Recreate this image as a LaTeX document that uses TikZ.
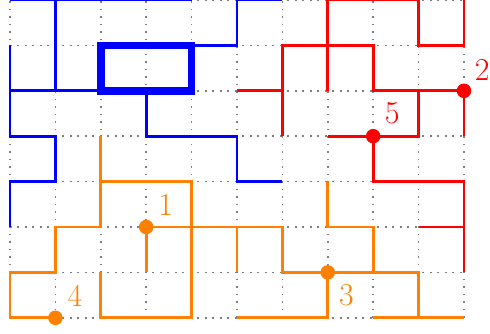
\documentclass[tikz,border=0pt]{standalone}
\usetikzlibrary{calc}
\begin{document}
\begin{tikzpicture}[x=1cm,y=-1cm,
  griddots/.style={gray, line width=1pt, dash pattern=on 1pt off 3.7pt},
  wall/.style={line width=1.7pt},
  thickwall/.style={line width=4.7pt, line join=miter},
  dotnode/.style={circle, fill, inner sep=0pt, minimum size=0.32cm},
  lab/.style={font=\fontsize{20}{24}\selectfont, inner sep=0pt}]
\useasboundingbox (-0.22,0) rectangle (10.573,7.335);
\draw[griddots] (0,0) grid (10,7);
% blue
\begin{scope}[blue]
\draw[wall] (0,0) -- (4,0);
\draw[wall] (5,0) -- (6,0);
\draw[wall] (1,0) -- (1,2);
\draw[wall] (0,1) -- (0,3) -- (1,3) -- (1,4) -- (0,4) -- (0,5);
\draw[wall] (0,2) -- (2,2);
\draw[wall] (3,2) -- (3,3) -- (5,3) -- (5,4) -- (6,4);
\draw[wall] (4,1) -- (5,1) -- (5,0);
\draw[thickwall] (2,1) rectangle (4,2);
\end{scope}
% red
\begin{scope}[red]
\draw[wall] (7,2) -- (7,0) -- (9,0) -- (9,1) -- (10,1) -- (10,0);
\draw[wall] (6,3) -- (6,1) -- (8,1) -- (8,2) -- (10,2) -- (10,3);
\draw[wall] (5,2) -- (6,2);
\draw[wall] (9,2) -- (9,3) -- (7,3);
\draw[wall] (8,3) -- (8,4) -- (10,4) -- (10,6);
\draw[wall] (9,5) -- (10,5);
\node[dotnode] (d2) at (10,2) {};
\node[dotnode] (d5) at (8,3) {};
\node[lab, red] (l2) at ($(d2)+(0.4,-0.47)$) {2};
\node[lab, red] (l5) at ($(d5)+(0.42,-0.5)$) {5};
\end{scope}
% orange
\begin{scope}[orange]
\draw[wall] (2,3) -- (2,5) -- (1,5) -- (1,6) -- (0,6) -- (0,7) -- (1,7);
\draw[wall] (2,4) -- (4,4) -- (4,7) -- (2,7) -- (2,6);
\draw[wall] (3,6) -- (3,5) -- (6,5) -- (6,6) -- (9,6) -- (9,7);
\draw[wall] (5,5) -- (5,6);
\draw[wall] (5,7) -- (7,7) -- (7,6);
\draw[wall] (8,7) -- (10,7);
\draw[wall] (7,4) -- (7,5) -- (8,5) -- (8,6);
\node[dotnode] (d1) at (3,5) {};
\node[dotnode] (d4) at (1,7) {};
\node[dotnode] (d3) at (7,6) {};
\node[lab, orange] (l1) at ($(d1)+(0.43,-0.48)$) {1};
\node[lab, orange] (l4) at ($(d4)+(0.43,-0.48)$) {4};
\node[lab, orange] (l3) at ($(d3)+(0.41,0.5)$) {3};
\end{scope}
\end{tikzpicture}
\end{document}
